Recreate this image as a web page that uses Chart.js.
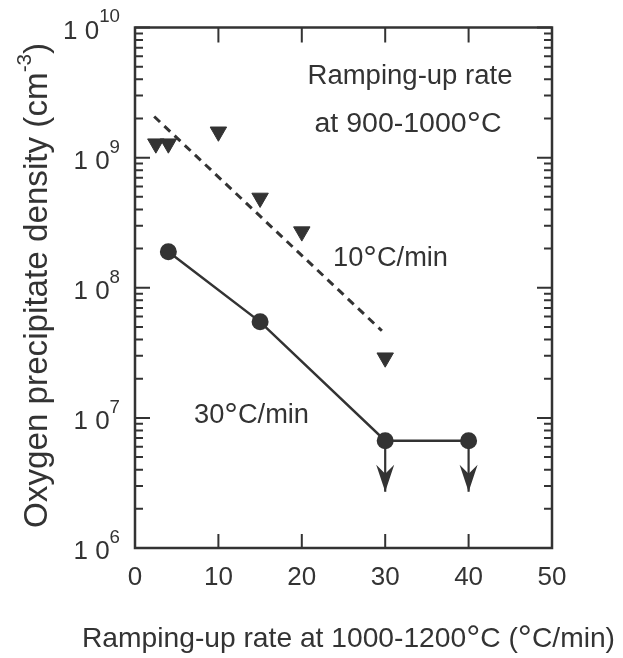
<!DOCTYPE html>
<html><head><meta charset="utf-8">
<script src="https://cdn.jsdelivr.net/npm/chart.js@4.4.0/dist/chart.umd.min.js"></script>
<style>html,body{margin:0;padding:0;background:#fff;}canvas{display:block;}</style>
</head><body>
<canvas id="c" width="623" height="658"></canvas>
<script>
// ---- data ----
const xTickValues = [0, 10, 20, 30, 40, 50];
const yTickExponents = [6, 7, 8, 9, 10];
const tri10X = [2.5, 4, 10, 15, 20, 30];
const tri10Y = [1.28e9, 1.28e9, 1.58e9, 4.9e8, 2.7e8, 2.9e7];
const fit10X = [2.3, 29.6];
const fit10Y = [2.07e9, 4.67e7];
const circ30X = [4, 15, 30, 40];
const circ30Y = [1.89e8, 5.47e7, 6.68e6, 6.68e6];
const arrowX = [30, 40];
const arrowFromY = [6.68e6, 6.68e6];
const arrowTipY = [2.7e6, 2.7e6];

const ink = '#333333';
const FONT = '"Liberation Sans", Arial, Helvetica, sans-serif';

// runs: {t, scale (font size factor), raise (fraction of base size upward)}
function drawRuns(ctx, runs, x, y, size, align, targetW) {
  const parts = runs.map(r => {
    const s = size * (r.scale || 1);
    ctx.font = s + 'px ' + FONT;
    return { t: r.t, s: s, w: ctx.measureText(r.t).width, dy: -(r.raise || 0) * size };
  });
  const total = parts.reduce((a, p) => a + p.w, 0);
  const sx = targetW ? targetW / total : 1;
  ctx.save();
  ctx.translate(x, y);
  ctx.scale(sx, 1);
  ctx.textAlign = 'left';
  ctx.textBaseline = 'alphabetic';
  ctx.fillStyle = ink;
  let cx = align === 'center' ? -total / 2 : (align === 'right' ? -total : 0);
  for (const p of parts) {
    ctx.font = p.s + 'px ' + FONT;
    ctx.fillText(p.t, cx, p.dy);
    cx += p.w;
  }
  ctx.restore();
}
const DEG = { t: '°', scale: 1.25, raise: -0.1 };

const decor = {
  id: 'decor',
  afterDraw(chart) {
    const ctx = chart.ctx;
    const a = chart.chartArea;
    const xs = chart.scales.x, ys = chart.scales.y;
    ctx.save();
    ctx.strokeStyle = ink;
    // frame
    ctx.lineWidth = 2.5;
    ctx.strokeRect(a.left, a.top, a.right - a.left, a.bottom - a.top);
    // x ticks
    ctx.lineWidth = 2;
    ctx.beginPath();
    xTickValues.forEach(v => {
      const px = xs.getPixelForValue(v);
      ctx.moveTo(px, a.bottom); ctx.lineTo(px, a.bottom - 14);
      ctx.moveTo(px, a.top); ctx.lineTo(px, a.top + 15);
    });
    // y ticks (major at decades, minor at 2..9)
    const eMin = yTickExponents[0], eMax = yTickExponents[yTickExponents.length - 1];
    for (let e = eMin; e <= eMax; e++) {
      const kmax = e === eMax ? 1 : 9;
      for (let k = 1; k <= kmax; k++) {
        const py = ys.getPixelForValue(k * Math.pow(10, e));
        const len = k === 1 ? 15 : 8;
        ctx.moveTo(a.left, py); ctx.lineTo(a.left + len, py);
        ctx.moveTo(a.right, py); ctx.lineTo(a.right - len, py);
      }
    }
    ctx.stroke();
    // arrowheads
    ctx.fillStyle = ink;
    arrowX.forEach((v, i) => {
      const px = xs.getPixelForValue(v);
      const py = ys.getPixelForValue(arrowTipY[i]);
      ctx.beginPath();
      ctx.moveTo(px, py);
      ctx.lineTo(px - 9, py - 27);
      ctx.lineTo(px, py - 18);
      ctx.lineTo(px + 9, py - 27);
      ctx.closePath();
      ctx.fill();
    });
    ctx.restore();

    // tick labels
    xTickValues.forEach(v => {
      drawRuns(ctx, [{ t: String(v) }], xs.getPixelForValue(v), a.bottom + 37, 26, 'center');
    });
    yTickExponents.forEach(e => {
      const py = ys.getPixelForValue(Math.pow(10, e));
      drawRuns(ctx, [{ t: '1 0' }, { t: String(e), scale: 0.72, raise: 0.62 }], a.left - 15, py + 11, 26, 'right');
    });

    // axis titles
    drawRuns(ctx, [{ t: 'Ramping-up rate at 1000-1200' }, DEG, { t: 'C (' }, DEG, { t: 'C/min)' }], 348.5, 647, 28, 'center', 533);
    ctx.save();
    ctx.translate(47, 285.5);
    ctx.rotate(-Math.PI / 2);
    drawRuns(ctx, [{ t: 'Oxygen precipitate density (cm' }, { t: '-3', scale: 0.62, raise: 0.5 }, { t: ')' }], 0, 0, 33, 'center', 485);
    ctx.restore();

    // annotations
    drawRuns(ctx, [{ t: 'Ramping-up rate' }], 410, 84, 27, 'center', 205);
    drawRuns(ctx, [{ t: 'at 900-1000' }, DEG, { t: 'C' }], 408, 132, 27, 'center', 187);
    drawRuns(ctx, [{ t: '10' }, DEG, { t: 'C/min' }], 333, 266, 27, 'left', 115);
    drawRuns(ctx, [{ t: '30' }, DEG, { t: 'C/min' }], 194, 423, 27, 'left', 115);
  }
};

const pts = (xsArr, ysArr) => xsArr.map((x, i) => ({ x: x, y: ysArr[i] }));

const datasets = [
  {
    label: '10°C/min',
    data: pts(tri10X, tri10Y),
    showLine: false,
    pointStyle: 'triangle',
    rotation: 180,
    pointRadius: 9.5,
    pointBackgroundColor: ink,
    pointBorderColor: ink,
    pointBorderWidth: 1
  },
  {
    label: '10°C/min fit',
    data: pts(fit10X, fit10Y),
    showLine: true,
    borderColor: ink,
    borderWidth: 3,
    borderDash: [8, 6],
    pointRadius: 0
  },
  {
    label: '30°C/min',
    data: pts(circ30X, circ30Y),
    showLine: true,
    borderColor: ink,
    borderWidth: 2.5,
    pointRadius: 8.5,
    pointBackgroundColor: ink,
    pointBorderColor: ink,
    pointBorderWidth: 0
  }
];
arrowX.forEach((x, i) => {
  datasets.push({
    label: 'upper limit ' + x,
    data: [{ x: x, y: arrowFromY[i] }, { x: x, y: arrowTipY[i] }],
    showLine: true,
    borderColor: ink,
    borderWidth: 2.2,
    pointRadius: 0
  });
});

new Chart(document.getElementById('c'), {
  type: 'scatter',
  data: { datasets: datasets },
  options: {
    responsive: false,
    animation: false,
    events: [],
    clip: false,
    layout: { padding: { left: 135, right: 71, top: 27.5, bottom: 110 } },
    plugins: { legend: { display: false }, tooltip: { enabled: false } },
    scales: {
      x: { type: 'linear', min: 0, max: 50, display: false },
      y: { type: 'logarithmic', min: 1e6, max: 1e10, display: false }
    }
  },
  plugins: [decor]
});
</script>
</body></html>
